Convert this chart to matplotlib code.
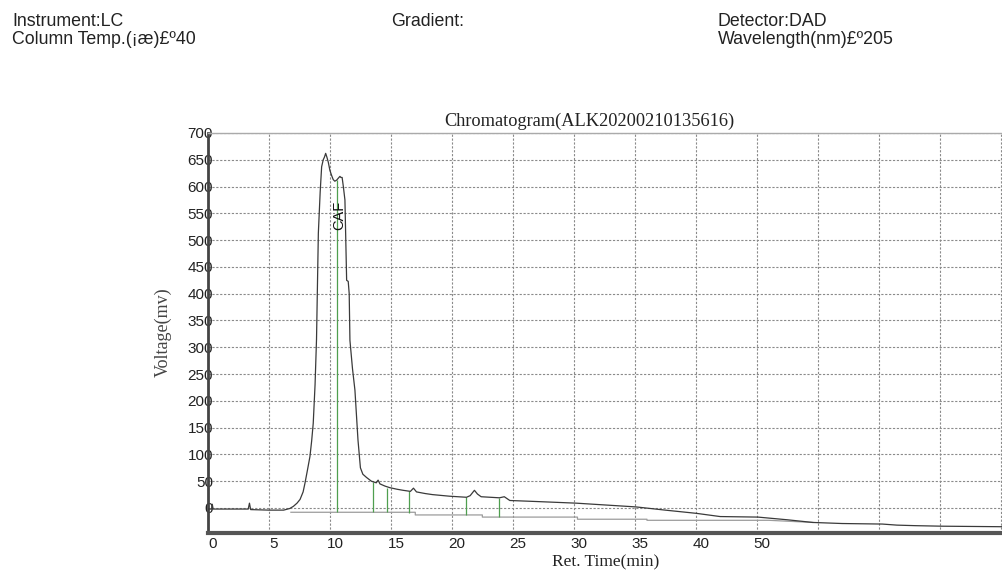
import matplotlib
matplotlib.use("Agg")
import matplotlib.pyplot as plt
import matplotlib.transforms as mtransforms

# ---------------- data ----------------
ret_time = [0, 0.3, 0.35, 0.42, 1.5, 3.3, 3.4, 3.5, 5.0, 6.2, 6.7, 7.0, 7.3, 7.55, 7.8,
            7.95, 8.15, 8.36, 8.5, 8.63, 8.78, 8.9, 9.05, 9.2, 9.32, 9.45, 9.55, 9.65,
            9.75, 9.86, 10.0, 10.15, 10.27, 10.4, 10.55, 10.7, 10.82, 10.9, 11.0, 11.1,
            11.23, 11.3, 11.37, 11.5, 11.58, 11.64, 11.85, 12.05, 12.3, 12.5, 12.7, 13.0,
            13.4, 13.8, 13.95, 14.1, 14.5, 14.9, 15.5, 16.0, 16.6, 16.85, 17.1, 17.8,
            18.4, 19.8, 21.2, 21.5, 21.85, 22.1, 22.4, 23.9, 24.3, 24.75, 27.0, 30.2,
            33.0, 35.1, 37.5, 40.05, 42.0, 45.1, 47.5, 49.6, 52.0, 55.3, 56.5, 58.0,
            60.2, 65.2]
voltage = [-2, -2, 7, -2, -2, -2, 9, -3, -4, -4, -1, 3, 9, 16, 30,
           46, 70, 96, 125, 158, 230, 315, 513, 590, 637, 650, 655, 662,
           655, 646, 630, 620, 613, 610, 612, 616, 619, 617, 617, 600,
           575, 500, 425, 423, 400, 313, 260, 220, 127, 75, 63, 57,
           50, 47, 52, 45, 41, 38, 35, 33, 31, 37, 30, 27,
           25, 22, 20, 23, 33, 26, 21, 19, 21, 14, 12, 9,
           5, 2, -4, -10, -16, -17, -22, -27, -29, -30, -32, -33,
           -34, -35]

baseline_time = [6.8, 17.0, 17.0, 22.5, 22.5, 30.3, 30.3, 36.0, 36.0, 46.0, 49.6]
baseline_volt = [-8, -8, -13, -13, -17, -17, -21, -21, -23, -23, -27]

mark_time = [10.55, 13.55, 14.7, 16.5, 21.2, 23.9]
mark_top = [612, 49, 38, 32, 20, 19]
mark_bottom = [-8, -8, -8, -9, -13, -16]

peak_name = "CAF"
peak_label_pos = (10.8, 547)

x_ticks = [0, 5, 10, 15, 20, 25, 30, 35, 40, 45, 50, 55, 60, 65]
x_tick_labels = ["0", "5", "10", "15", "20", "25", "30", "35", "40", "50", "", "", "", ""]
y_ticks = list(range(0, 701, 50))
y_tick_labels = [str(v) for v in y_ticks]

# ---------------- figure ----------------
W, H = 1003, 572
fig = plt.figure(figsize=(W / 100, H / 100), dpi=100)
fig.patch.set_facecolor("white")

sans = ["Liberation Sans", "DejaVu Sans"]
serif = ["Liberation Serif", "DejaVu Serif"]

left_px, right_px, top_px, bot_px = 208, 1003, 133, 533
ax = fig.add_axes([left_px / W, (H - bot_px) / H, (right_px - left_px) / W,
                   (bot_px - top_px) / H])
ax.set_xlim(0, 65.2)
ax.set_ylim(-46.7, 700)

ax.set_xticks(x_ticks)
ax.set_xticklabels(x_tick_labels, family=sans, fontsize=11, color="#222222")
ax.set_yticks(y_ticks)
ax.set_yticklabels(y_tick_labels, family=sans, fontsize=11, color="#222222")
ax.tick_params(axis="both", length=0)
ax.tick_params(axis="x", pad=3)
ax.tick_params(axis="y", pad=0)

off_y = mtransforms.ScaledTranslation(5 / 100, 0, fig.dpi_scale_trans)
for lab in ax.get_yticklabels():
    lab.set_transform(lab.get_transform() + off_y)
off_x = mtransforms.ScaledTranslation(5 / 100, 0, fig.dpi_scale_trans)
for lab in ax.get_xticklabels():
    lab.set_transform(lab.get_transform() + off_x)

ax.grid(True, color="#8a8a8a", linestyle=(0, (2, 1.5)), linewidth=0.8)
ax.set_axisbelow(True)

ax.spines["right"].set_visible(False)
ax.spines["top"].set_color("#aaaaaa")
ax.spines["top"].set_linewidth(1.0)
ax.spines["left"].set_color("#444444")
ax.spines["left"].set_linewidth(2.0)
ax.spines["bottom"].set_color("#555555")
ax.spines["bottom"].set_linewidth(3.0)

# baseline and peak markers
ax.plot(baseline_time, baseline_volt, color="#9c9c9c", linewidth=0.9, zorder=2)
ax.vlines(mark_time, mark_bottom, mark_top, color="#4f9f4f", linewidth=0.9, zorder=3)
# signal trace
ax.plot(ret_time, voltage, color="#3a3a3a", linewidth=0.9, zorder=4)

ax.text(peak_label_pos[0], peak_label_pos[1], peak_name, rotation=90, ha="center",
        va="center", family=sans, fontsize=10.5, color="#111111", zorder=5)

# titles / labels
fig.text(589 / W, 1 - 121 / H, "Chromatogram(ALK20200210135616)", family=serif,
         fontsize=13.2, ha="center", va="center", color="#222222")
fig.text(606 / W, 1 - 562 / H, "Ret. Time(min)", family=serif, fontsize=12.5,
         ha="center", va="center", color="#222222")
fig.text(163 / W, 1 - 332 / H, "Voltage(mv)", family=serif, fontsize=13,
         ha="center", va="center", rotation=90, color="#444444")

# header
hdr = dict(family=sans, fontsize=12.8, color="#222222", ha="left", va="center")
fig.text(12.5 / W, 1 - 21 / H, "Instrument:LC", **hdr)
fig.text(12.5 / W, 1 - 39 / H, "Column Temp.(¡æ)£º40", **hdr)
fig.text(391 / W, 1 - 21 / H, "Gradient:", **hdr)
fig.text(718 / W, 1 - 21 / H, "Detector:DAD", **hdr)
fig.text(718 / W, 1 - 39 / H, "Wavelength(nm)£º205", **hdr)

fig.savefig("out.png", dpi=100, facecolor="white")
